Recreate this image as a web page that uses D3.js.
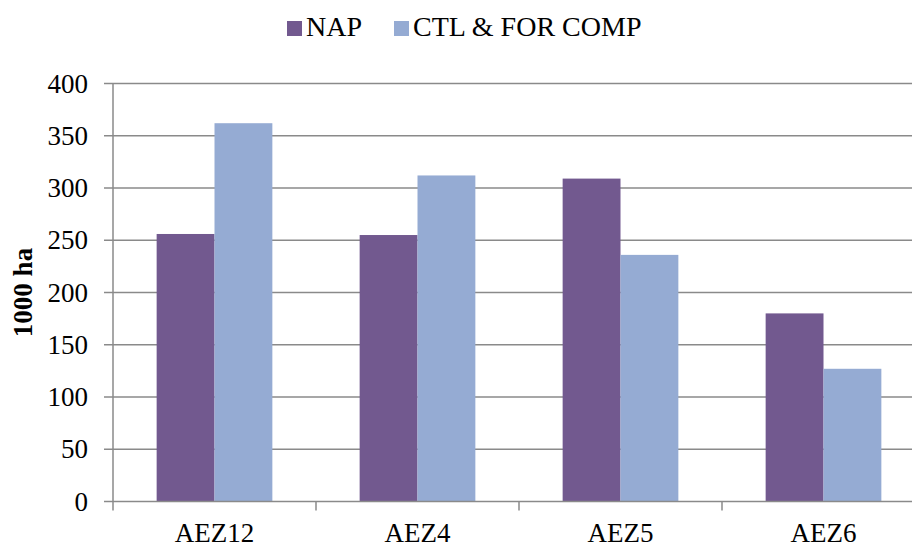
<!DOCTYPE html>
<html><head><meta charset="utf-8">
<script src="https://cdn.jsdelivr.net/npm/d3@7"></script>
<style>body{margin:0;background:#fff}svg{display:block}
svg text{font-family:"Liberation Serif","Times New Roman",Times,"DejaVu Serif",serif;}</style>
</head><body><svg id="c" width="912" height="545"></svg>
<script>
const categories = ["AEZ12","AEZ4","AEZ5","AEZ6"];
const seriesNames = ["NAP","CTL & FOR COMP"];
const napValues = [256, 255, 309, 180];
const ctlValues = [362, 312, 236, 127];
const yTicks = [0,50,100,150,200,250,300,350,400];
const colors = ["#72598F","#95ABD3"];

(function(){
const svg = d3.select("#c");
const pLeft = 113, pRight = 925, pTop = 83.5, pBottom = 501.5;

const x0 = d3.scaleBand().domain(categories).range([pLeft, pRight]).paddingInner(0.43).paddingOuter(0.215);
const x1 = d3.scaleBand().domain(seriesNames).range([0, x0.bandwidth()]);
const y = d3.scaleLinear().domain([0,400]).range([pBottom, pTop]);
const xTick = d3.scaleBand().domain(categories).range([pLeft, pRight]);

svg.append("g").selectAll("line").data(yTicks.filter(d=>d>0)).join("line")
  .attr("x1", pLeft - 9).attr("x2", pRight).attr("y1", d=>y(d)).attr("y2", d=>y(d))
  .attr("stroke", "#8a8a8a").attr("stroke-width", 1.5);

const data = categories.map((c,i)=>({c, vals:[napValues[i], ctlValues[i]]}));
const g = svg.append("g").selectAll("g").data(data).join("g")
  .attr("transform", d=>`translate(${x0(d.c)},0)`);
g.selectAll("rect").data(d=>d.vals.map((v,j)=>({v, s:seriesNames[j], j}))).join("rect")
  .attr("x", d=>x1(d.s)).attr("width", x1.bandwidth())
  .attr("y", d=>y(d.v)).attr("height", d=>pBottom - y(d.v))
  .attr("fill", d=>colors[d.j]);

svg.append("line").attr("x1", pLeft).attr("x2", pLeft).attr("y1", pTop).attr("y2", pBottom)
  .attr("stroke", "#8a8a8a").attr("stroke-width", 1.5);
svg.append("line").attr("x1", pLeft-9).attr("x2", pRight).attr("y1", pBottom).attr("y2", pBottom)
  .attr("stroke", "#8a8a8a").attr("stroke-width", 1.5);
svg.append("g").selectAll("text").data(yTicks).join("text")
  .attr("x", 88).attr("y", d=>y(d)+9).attr("text-anchor","end")
  .attr("font-size", 27).attr("fill","#000").text(d=>d);

const tickXs = categories.map(c=>xTick(c)).concat([pRight]);
svg.append("g").selectAll("line").data(tickXs).join("line")
  .attr("x1", d=>d).attr("x2", d=>d).attr("y1", pBottom).attr("y2", pBottom+9)
  .attr("stroke", "#8a8a8a").attr("stroke-width", 1.5);
svg.append("g").selectAll("text").data(categories).join("text")
  .attr("x", d=>xTick(d)+xTick.bandwidth()/2).attr("y", 542).attr("text-anchor","middle")
  .attr("font-size", 27).attr("fill","#000").text(d=>d);

svg.append("text").attr("transform","translate(32,292.5) rotate(-90)").attr("text-anchor","middle")
  .attr("font-size", 27).attr("font-weight","bold").text("1000 ha");

const legX = [287, 394];
const lg = svg.append("g").selectAll("g").data(seriesNames).join("g")
  .attr("transform", (d,i)=>`translate(${legX[i]},0)`);
lg.append("rect").attr("x", 0).attr("y", 21).attr("width", 15).attr("height", 15)
  .attr("fill", (d,i)=>colors[i]);
lg.append("text").attr("x", 19).attr("y", 36).attr("font-size", 28)
  .text(d=>d);
})();
</script></body></html>
